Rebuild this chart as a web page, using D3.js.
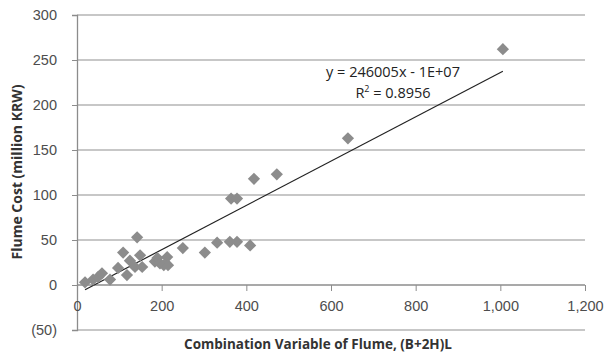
<!DOCTYPE html>
<html>
<head>
<meta charset="utf-8">
<script src="https://cdn.jsdelivr.net/npm/d3@7"></script>
<style>
  body { margin: 0; background: #fff; }
  svg { display: block; font-family: "Open Sans", "Liberation Sans", sans-serif; }
</style>
</head>
<body>
<svg id="chart" width="605" height="353"></svg>
<script>
// flume data: combination variable (B+2H)L vs cost (million KRW)
const xValues = [19, 38, 50, 59, 78, 97, 109, 118, 125, 137, 142, 149, 154, 184, 190, 196, 205, 213, 215, 250, 302, 331, 361, 364, 378, 378, 409, 418, 472, 640, 1006];
const yValues = [3, 6, 9, 13, 6, 19, 36, 11, 27, 20, 53, 33, 20, 26, 30, 24, 22, 31, 22, 41, 36, 47, 48, 96, 48, 96, 44, 118, 123, 163, 262];
const xTicks = [0, 200, 400, 600, 800, 1000, 1200];
const yTicks = [-50, 0, 50, 100, 150, 200, 250, 300];
const slope = 0.246005, intercept = -10; // y = 246005x - 1E+07 in KRW
const eqText = "y = 246005x - 1E+07";
const r2Text = "0.8956";

const svg = d3.select('#chart');
const x = d3.scaleLinear().domain([0, 1200]).range([77, 585]);
const y = d3.scaleLinear().domain([-50, 300]).range([330, 15]);

// gridlines
svg.append('g')
  .selectAll('line')
  .data(yTicks)
  .enter()
  .append('line')
  .attr('x1', x(0)).attr('x2', x(1200))
  .attr('y1', d => y(d)).attr('y2', d => y(d))
  .attr('stroke', d => d === 0 ? '#8c8c8c' : '#b4b4b4')
  .attr('stroke-width', 1.3);

// y axis
const yAxis = svg.append('g')
  .attr('transform', 'translate(' + x(0) + ',0)')
  .call(d3.axisLeft(y).tickValues(yTicks).tickSize(5).tickPadding(15)
    .tickFormat(d => d < 0 ? '(' + Math.abs(d) + ')' : d));
yAxis.select('.domain').attr('stroke', '#8c8c8c').attr('stroke-width', 1.3);
yAxis.selectAll('.tick line').attr('stroke', '#8c8c8c');
yAxis.selectAll('text').attr('font-size', 14.5).attr('fill', '#4d4d4d');

// x axis at zero
const xAxis = svg.append('g')
  .attr('transform', 'translate(0,' + y(0) + ')')
  .call(d3.axisBottom(x).tickValues(xTicks).tickSize(6).tickPadding(10)
    .tickFormat(d3.format(',')));
xAxis.select('.domain').remove();
xAxis.selectAll('.tick line').attr('stroke', '#8c8c8c');
xAxis.selectAll('text').attr('font-size', 14.5).attr('fill', '#4d4d4d');

// trend line
const xMin = d3.min(xValues), xMax = d3.max(xValues);
svg.append('line')
  .attr('x1', x(xMin)).attr('y1', y(slope * xMin + intercept))
  .attr('x2', x(xMax)).attr('y2', y(slope * xMax + intercept))
  .attr('stroke', '#222').attr('stroke-width', 1.2);

// diamonds
svg.append('g')
  .selectAll('path')
  .data(xValues.map((v, i) => [v, yValues[i]]))
  .enter()
  .append('path')
  .attr('d', d3.symbol().type(d3.symbolSquare).size(75))
  .attr('transform', d => 'translate(' + x(d[0]) + ',' + y(d[1]) + ') rotate(45)')
  .attr('fill', '#8c8c8c');

// equation
svg.append('text')
  .attr('x', 393).attr('y', 77)
  .attr('text-anchor', 'middle')
  .attr('font-size', 14.5).attr('fill', '#222')
  .text(eqText);
const r2 = svg.append('text')
  .attr('x', 393).attr('y', 98)
  .attr('text-anchor', 'middle')
  .attr('font-size', 14.5).attr('fill', '#222');
r2.append('tspan').text('R');
r2.append('tspan').attr('dy', -6).attr('font-size', 9).text('2');
r2.append('tspan').attr('dy', 6).text(' = ' + r2Text);

// axis titles
svg.append('text')
  .attr('transform', 'translate(22,172) rotate(-90)')
  .attr('text-anchor', 'middle')
  .attr('font-size', 14).attr('font-weight', 'bold').attr('fill', '#333')
  .text('Flume Cost (million KRW)');
svg.append('text')
  .attr('x', 318).attr('y', 349)
  .attr('text-anchor', 'middle')
  .attr('font-size', 13.5).attr('font-weight', 'bold').attr('fill', '#333')
  .text('Combination Variable of Flume, (B+2H)L');
</script>
</body>
</html>
